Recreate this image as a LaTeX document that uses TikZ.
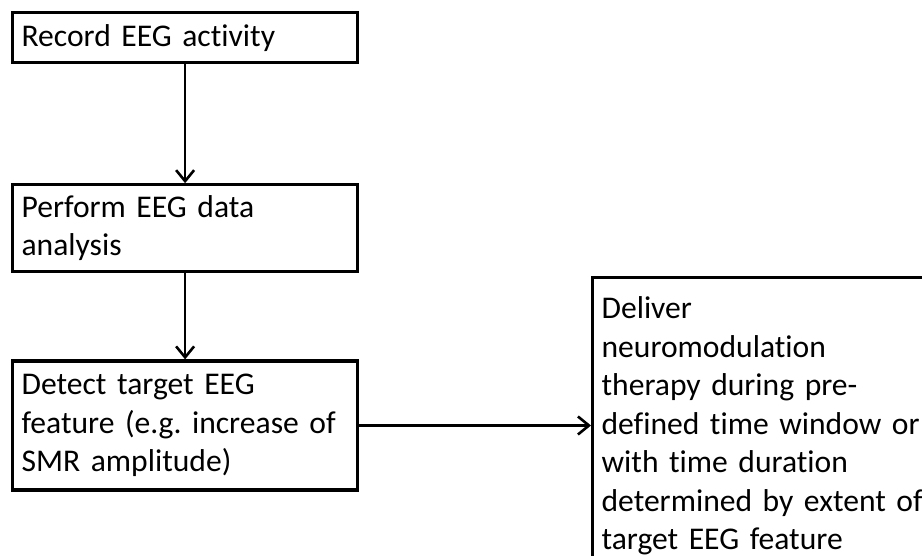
\documentclass[tikz,border=0pt]{standalone}
\usepackage{fontspec}
\setmainfont{Carlito}[Ligatures={NoCommon}]
\usetikzlibrary{positioning, arrows.meta}
\frenchspacing
\tikzstyle{stepnode} = [rectangle, draw=black, line width=1.6pt, inner xsep=4.5pt, inner ysep=4pt, text width=163.5pt, align=left, font=\fontsize{15.8pt}{19.25pt}\selectfont]
\tikzstyle{arrow} = [line width=1.3pt, -{Straight Barb[length=5.5pt, width=9pt]}]
\begin{document}
\begin{tikzpicture}
\path [use as bounding box, clip] (0,0) rectangle (461pt,-278pt);
\node (record) [stepnode, minimum height=25pt, anchor=north west] at (5.5pt,-5.5pt) {Record EEG activity};
\node (analysis) [stepnode, minimum height=43.5pt, below=59.5pt of record] {Perform EEG data\\ analysis};
\node (detect) [stepnode, minimum height=64.5pt, below=43pt of analysis] {Detect target EEG\\ feature (e.g. increase of\\ SMR amplitude)};
\node (deliver) [stepnode, text width=170pt, inner ysep=9.5pt, anchor=north west] at (295.5pt,-138pt) {Deliver\\ neuromodulation\\ therapy during pre-\\ defined time window or\\ with time duration\\ determined by extent of\\ target EEG feature};
\draw [arrow] (record) -- (analysis);
\draw [arrow] (analysis) -- (detect);
\draw [arrow] (detect.east) -- (detect.east -| deliver.west);
\end{tikzpicture}
\end{document}
